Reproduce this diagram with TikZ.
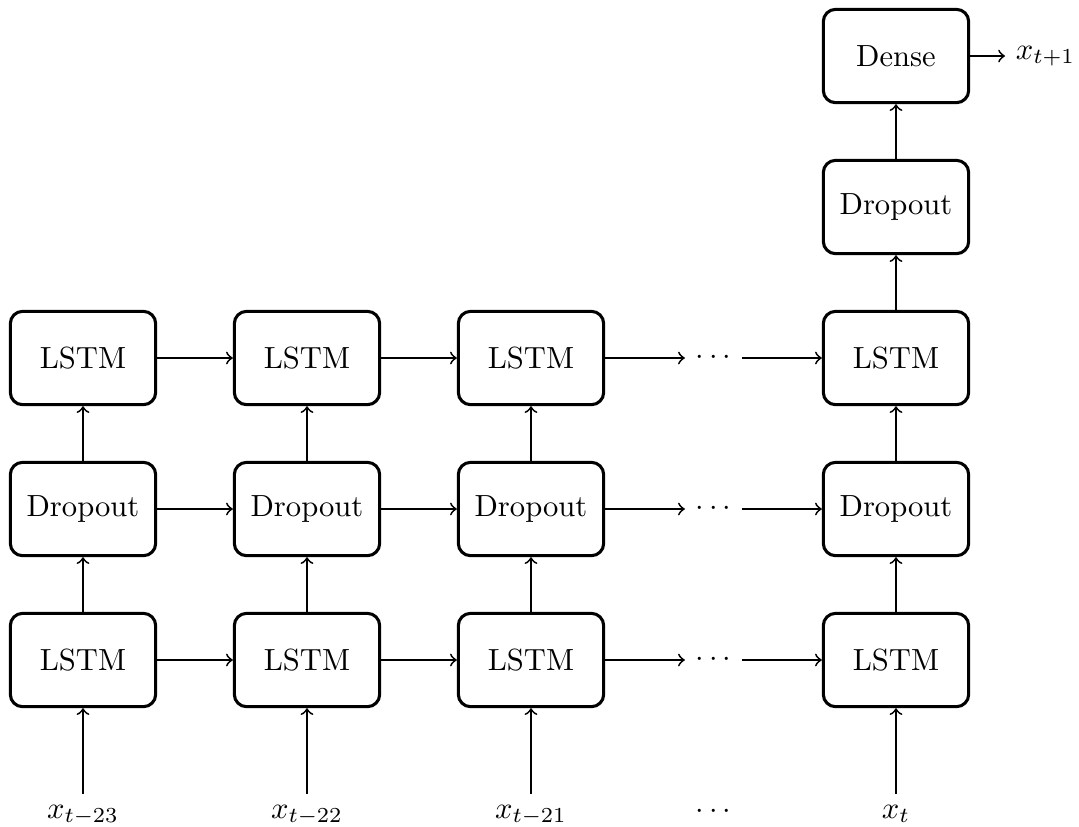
\documentclass[tikz,border=0pt]{standalone}
\begin{document}
\begin{tikzpicture}[x=0.3268pt,y=-0.3268pt,
  block/.style={draw, line width=1pt, rounded corners=4pt,
    minimum width=47.5pt, minimum height=30.5pt, inner sep=0pt},
  conn/.style={->, line width=0.6pt}]
\useasboundingbox (0,0) rectangle (1079,826);

% three stacked layers per time step
\foreach \c/\x in {a/83,b/307,c/531,d/896} {
  \node[block] (l1\c) at (\x,660) {LSTM};
  \node[block] (d1\c) at (\x,509) {Dropout};
  \node[block] (l2\c) at (\x,358) {LSTM};
}
% head of the network
\node[block] (dtop) at (896,207) {Dropout};
\node[block] (dense) at (896,56) {Dense};
\node[anchor=west] (out) at (1005,56) {$x_{t+1}$};

% ellipses standing for the skipped time steps
\node (e1) at (713.5,660) {$\cdots$};
\node (e2) at (713.5,509) {$\cdots$};
\node (e3) at (713.5,358) {$\cdots$};

% inputs
\node[anchor=base] (xa) at (83,818) {$x_{t-23}$};
\node[anchor=base] (xb) at (307,818) {$x_{t-22}$};
\node[anchor=base] (xc) at (531,818) {$x_{t-21}$};
\node[anchor=base] (xe) at (713.5,818) {$\cdots$};
\node[anchor=base] (xd) at (896,818) {$x_t$};

% vertical connections
\foreach \c in {a,b,c,d} {
  \draw[conn] (x\c) -- (l1\c);
  \draw[conn] (l1\c) -- (d1\c);
  \draw[conn] (d1\c) -- (l2\c);
}
\draw[conn] (l2d) -- (dtop);
\draw[conn] (dtop) -- (dense);
\draw[conn] (dense) -- (out);

% recurrent connections along each layer
\foreach \r/\e in {l1/e1,d1/e2,l2/e3} {
  \draw[conn] (\r a) -- (\r b);
  \draw[conn] (\r b) -- (\r c);
  \draw[conn] (\r c) -- (\e);
  \draw[conn] (\e) -- (\r d);
}
\end{tikzpicture}
\end{document}
